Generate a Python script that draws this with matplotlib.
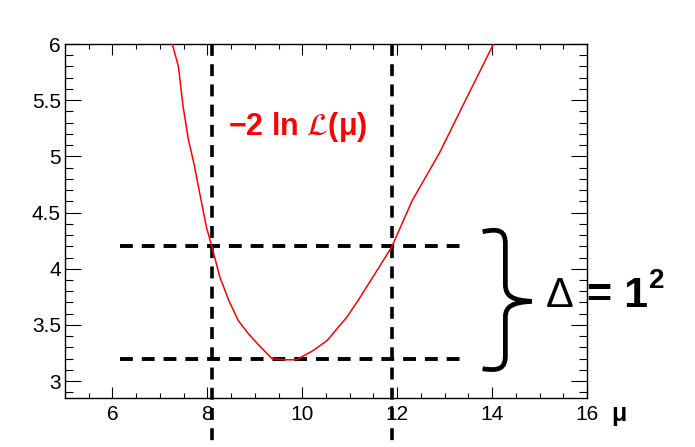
import matplotlib
matplotlib.use("Agg")
import matplotlib.pyplot as plt
from matplotlib.path import Path
from matplotlib.patches import PathPatch
from matplotlib.ticker import MultipleLocator

plt.rcParams['font.family'] = ['Liberation Sans', 'DejaVu Sans']
plt.rcParams['mathtext.fontset'] = 'stix'

# Data
mu = [7.26, 7.39, 7.49, 7.60, 7.72, 7.84, 7.98, 8.10, 8.26, 8.45, 8.65, 8.85,
      9.04, 9.36, 9.62, 9.88, 10.22, 10.52, 10.94, 11.18, 11.88, 12.32, 12.89,
      13.44, 14.03]
nll = [6.0, 5.80, 5.44, 5.15, 4.93, 4.67, 4.37, 4.19, 3.93, 3.72, 3.54, 3.43,
       3.34, 3.20, 3.19, 3.19, 3.27, 3.36, 3.57, 3.72, 4.19, 4.61, 5.03,
       5.5, 6.0]
h_levels = [3.2, 4.2]
h_span = [6.15, 13.5]
v_positions = [8.1, 11.9]
x_ticks = [6, 8, 10, 12, 14, 16]
y_ticks = [3, 3.5, 4, 4.5, 5, 5.5, 6]

fig = plt.figure(figsize=(6.95, 4.47), dpi=100)
ax = fig.add_axes([65/695, 1-398/447, (587-65)/695, (398-44)/447])

ax.plot(mu, nll, color='red', lw=1.1, zorder=3)

dash = (0, (3.3, 2.3))
for yl in h_levels:
    ax.plot(h_span, [yl, yl], color='black', lw=2.8, linestyle=dash, zorder=2)
for xv in v_positions:
    ax.plot([xv, xv], [6.0, 2.45], color='black', lw=2.6, linestyle=dash,
            clip_on=False, zorder=2)

ax.set_xticks(x_ticks)
ax.set_yticks(y_ticks)
ax.set_xticklabels([str(t) for t in x_ticks], fontsize=15)
ax.set_yticklabels([('%g' % t) for t in y_ticks], fontsize=15)
ax.xaxis.set_minor_locator(MultipleLocator(0.5))
ax.yaxis.set_minor_locator(MultipleLocator(0.1))
ax.set_xlim(5, 16)
ax.set_ylim(2.85, 6)

ax.tick_params(axis='both', which='both', direction='in', top=True, right=True,
               colors='black', width=0.8)
ax.tick_params(axis='x', which='major', length=8, pad=5)
ax.tick_params(axis='x', which='minor', length=3.6)
ax.tick_params(axis='y', which='major', length=11.5, pad=3)
ax.tick_params(axis='y', which='minor', length=5.8)
for s in ax.spines.values():
    s.set_linewidth(1.0)

# curve label
ax.text(8.43, 5.19, r'−2 ln $\mathcal{L}$(μ)', color='red', fontsize=22,
        fontweight='bold', ha='left', va='baseline')

# axis label
fig.text(611/695, 1-421/447, 'μ', fontsize=18, fontweight='bold', ha='left',
         va='baseline')

# brace
verts = [(13.80, 4.33),
         (14.15, 4.36), (14.28, 4.34), (14.28, 4.22),
         (14.28, 3.86),
         (14.28, 3.75), (14.45, 3.72), (14.83, 3.71),
         (14.45, 3.70), (14.28, 3.67), (14.28, 3.57),
         (14.28, 3.23),
         (14.28, 3.11), (14.15, 3.09), (13.80, 3.11)]
codes = [Path.MOVETO,
         Path.CURVE4, Path.CURVE4, Path.CURVE4,
         Path.LINETO,
         Path.CURVE4, Path.CURVE4, Path.CURVE4,
         Path.CURVE4, Path.CURVE4, Path.CURVE4,
         Path.LINETO,
         Path.CURVE4, Path.CURVE4, Path.CURVE4]
ax.add_patch(PathPatch(Path(verts, codes), fill=False, lw=3.4, color='black',
                       clip_on=False, capstyle='butt', joinstyle='miter'))

fig.text(546/695, 1-307/447, 'Δ', fontsize=30, ha='left', va='baseline')
fig.text(587/695, 1-307/447, '= 1', fontsize=31, fontweight='bold',
         ha='left', va='baseline')
fig.text(649/695, 1-288/447, '2', fontsize=20, fontweight='bold',
         ha='left', va='baseline')

fig.savefig('out.png', dpi=100)
